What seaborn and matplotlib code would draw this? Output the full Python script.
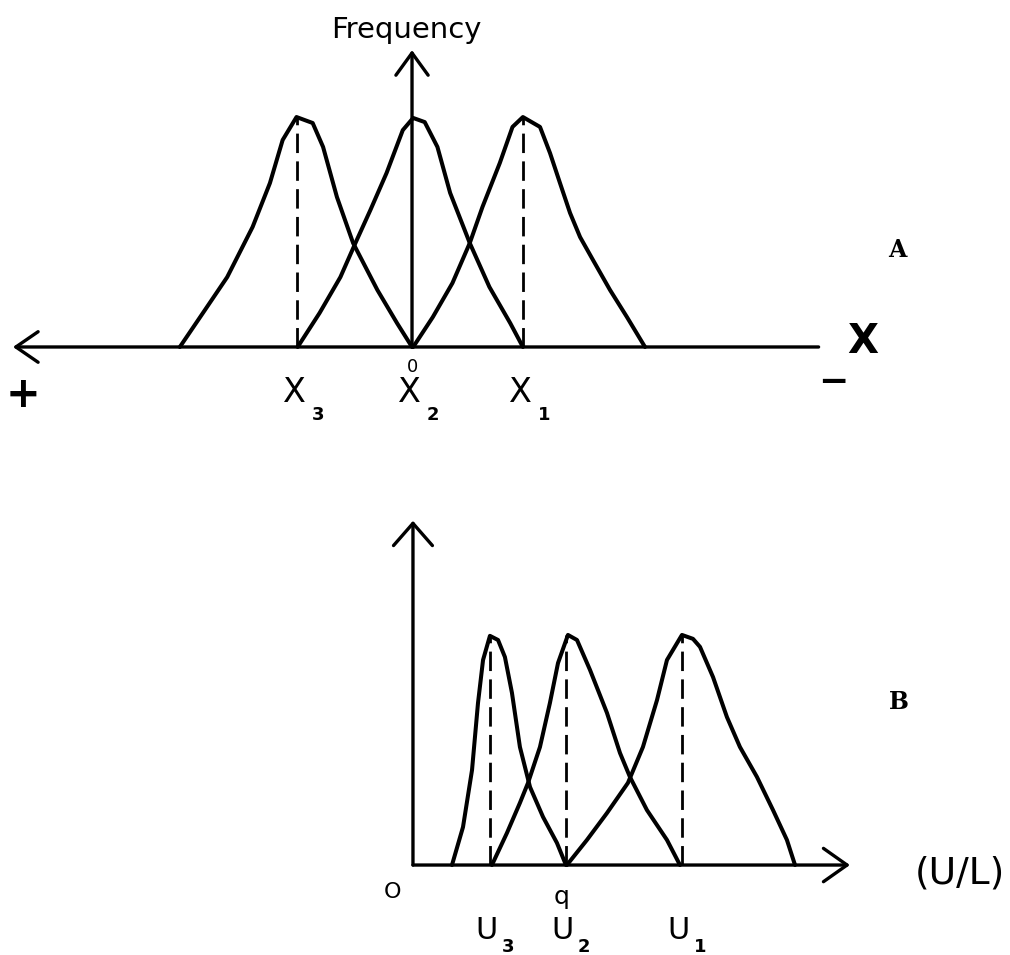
import pandas as pd
import matplotlib
matplotlib.use("Agg")
import matplotlib.pyplot as plt
import seaborn as sns

# ---- panel A : x in units of the peak spacing (X2 = 0), peak height = 1
a_left_x = [-2.01, -1.81, -1.60, -1.38, -1.23, -1.12, -1.00, -0.86, -0.77, -0.65, -0.51, -0.30, -0.13, 0.0]
a_left_y = [0.0, 0.148, 0.304, 0.522, 0.713, 0.90, 1.0, 0.974, 0.87, 0.652, 0.452, 0.248, 0.104, 0.0]
a_mid_x = [-0.99, -0.80, -0.62, -0.49, -0.36, -0.22, -0.08, 0.01, 0.11, 0.22, 0.33, 0.50, 0.67, 0.85, 0.96]
a_mid_y = [0.0, 0.148, 0.304, 0.452, 0.596, 0.757, 0.943, 0.996, 0.978, 0.87, 0.67, 0.452, 0.261, 0.104, 0.0]
a_right_x = [0.01, 0.18, 0.35, 0.50, 0.61, 0.76, 0.87, 0.96, 1.108, 1.195, 1.281, 1.368, 1.455, 1.567, 1.714, 1.861, 2.017]
a_right_y = [0.0, 0.13, 0.278, 0.452, 0.609, 0.80, 0.957, 1.0, 0.957, 0.843, 0.713, 0.583, 0.478, 0.378, 0.248, 0.130, 0.0]

a_peaks = [-1.0, 0.0, 0.96]
a_subs = ["3", "2", "1"]

# ---- panel B : x in units of q (U2 = 1), peak height = 1
b_u3_x = [0.255, 0.327, 0.386, 0.425, 0.458, 0.503, 0.556, 0.601, 0.647, 0.699, 0.765, 0.850, 0.941, 1.0]
b_u3_y = [0.0, 0.165, 0.413, 0.704, 0.891, 0.996, 0.978, 0.904, 0.748, 0.513, 0.339, 0.209, 0.096, 0.0]
b_u2_x = [0.516, 0.614, 0.699, 0.752, 0.830, 0.895, 0.948, 1.013, 1.072, 1.157, 1.268, 1.353, 1.418, 1.529, 1.660, 1.745]
b_u2_y = [0.0, 0.139, 0.27, 0.357, 0.513, 0.704, 0.878, 1.0, 0.978, 0.848, 0.661, 0.487, 0.383, 0.239, 0.109, 0.0]
b_u1_x = [1.006, 1.137, 1.268, 1.405, 1.503, 1.595, 1.660, 1.758, 1.830, 1.876, 1.961, 2.052, 2.137, 2.248, 2.353, 2.444, 2.497]
b_u1_y = [0.0, 0.109, 0.226, 0.357, 0.513, 0.717, 0.891, 1.0, 0.983, 0.948, 0.817, 0.643, 0.513, 0.383, 0.239, 0.109, 0.0]

b_peaks = [0.503, 1.0, 1.758]
b_subs = ["3", "2", "1"]


def curves_df(pairs):
    parts = []
    for i, (xs, ys) in enumerate(pairs):
        parts.append(pd.DataFrame({"x": xs, "y": ys, "curve": i}))
    return pd.concat(parts, ignore_index=True)


def arrow(ax, tail, tip, hl, hw):
    ax.annotate("", xy=tip, xytext=tail,
                arrowprops=dict(arrowstyle=f"->,head_length={hl},head_width={hw}",
                                lw=2.4, color="black", shrinkA=0, shrinkB=0,
                                mutation_scale=20))


def sub_label(ax, x, y, main, sub, dx, dy, size=24, subsize=13):
    ax.text(x, y, main, ha="center", va="center", fontsize=size)
    ax.annotate(sub, xy=(x, y), xytext=(dx, dy), textcoords="offset points",
                ha="center", va="center", fontsize=subsize, fontweight="bold")


sns.set_theme(style="white")
plt.rcParams["font.family"] = ["DejaVu Sans"]
plt.rcParams["text.color"] = "black"

fig = plt.figure(figsize=(10.1, 9.55), dpi=100)

# ---------------- panel A
axA = fig.add_axes([0, 0.5288, 1, 0.4712])
axA.set_xlim(-3.567, 5.177)
axA.set_ylim(-0.448, 1.509)
axA.axis("off")

dfA = curves_df([(a_left_x, a_left_y), (a_mid_x, a_mid_y), (a_right_x, a_right_y)])
sns.lineplot(data=dfA, x="x", y="y", units="curve", estimator=None, sort=False,
             color="black", lw=2.9, solid_joinstyle="round", ax=axA)

for p in [a_peaks[0], a_peaks[2]]:
    axA.vlines(p, 0, 1.0, color="black", lw=2.0, linestyles=(0, (7, 3)))

arrow(axA, (3.52, 0), (-3.455, 0), 0.8, 0.55)     # horizontal axis, pointing to "+"
arrow(axA, (0, 0), (0, 1.291), 0.8, 0.58)        # frequency axis

axA.text(-0.05, 1.378, "Frequency", ha="center", va="center", fontsize=21)
axA.text(4.2, 0.422, "A", ha="center", va="center", fontsize=17,
         family="DejaVu Serif", fontweight="bold")
axA.text(3.905, 0.022, "X", ha="center", va="center", fontsize=29, fontweight="bold")
axA.text(-3.37, -0.209, "+", ha="center", va="center", fontsize=30, fontweight="bold")
axA.text(3.645, -0.152, "\u2212", ha="center", va="center", fontsize=26, fontweight="bold")
axA.text(0, -0.087, "0", ha="center", va="center", fontsize=13)
for p, s in zip(a_peaks, a_subs):
    sub_label(axA, p - 0.02, -0.2, "X", s, 17, -16)

# ---------------- panel B
axB = fig.add_axes([0, 0, 1, 0.5079])
axB.set_xlim(-2.699, 3.902)
axB.set_ylim(-0.391, 1.717)
axB.axis("off")

dfB = curves_df([(b_u3_x, b_u3_y), (b_u2_x, b_u2_y), (b_u1_x, b_u1_y)])
sns.lineplot(data=dfB, x="x", y="y", units="curve", estimator=None, sort=False,
             color="black", lw=2.9, solid_joinstyle="round", ax=axB)

for p in b_peaks:
    axB.vlines(p, 0, 1.0, color="black", lw=2.0, linestyles=(0, (7, 3)))

arrow(axB, (0, 0), (2.856, 0), 0.85, 0.6)
arrow(axB, (0, 0), (0, 1.496), 0.8, 0.7)

axB.text(3.176, 0.709, "B", ha="center", va="center", fontsize=17,
         family="DejaVu Serif", fontweight="bold")
axB.text(-0.137, -0.117, "O", ha="center", va="center", fontsize=16)
axB.text(0.974, -0.139, "q", ha="center", va="center", fontsize=18)
axB.text(3.575, -0.035, "(U/L)", ha="center", va="center", fontsize=27)
for p, s in zip(b_peaks, b_subs):
    sub_label(axB, p - 0.02, -0.283, "U", s, 15, -12, size=22)

fig.savefig("out.png", dpi=100)
